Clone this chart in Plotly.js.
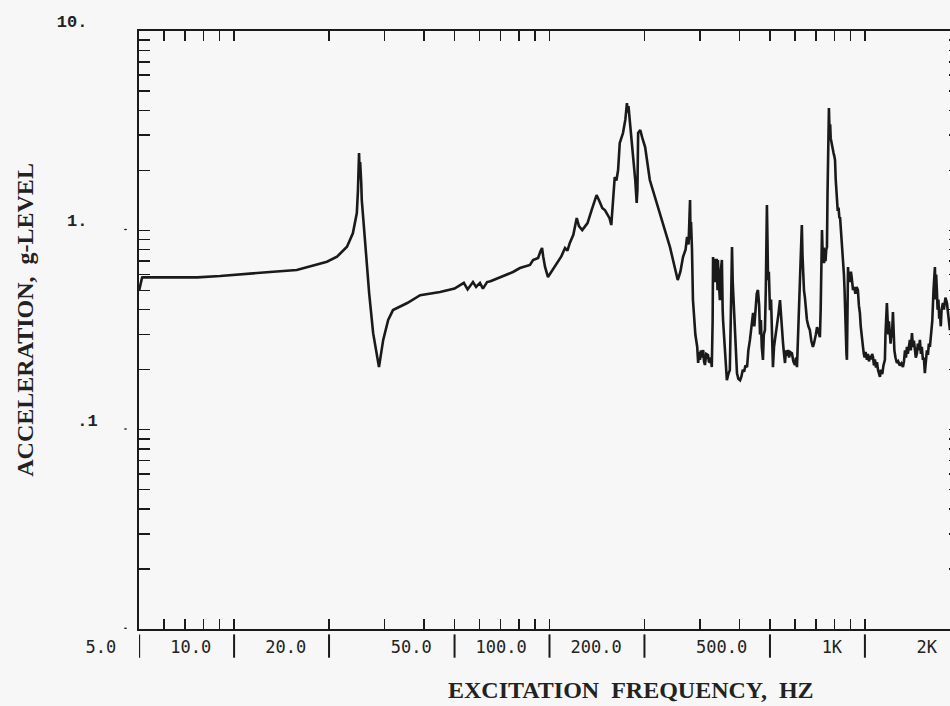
<!DOCTYPE html>
<html><head><meta charset="utf-8">
<script src="https://cdn.plot.ly/plotly-3.0.1.min.js"></script>
<style>html,body{margin:0;padding:0;overflow:hidden;background:#f7f7f7;width:950px;height:706px}</style>
</head><body><div id="chart"></div>
<script>
// Excitation frequency (Hz) and acceleration (g)
const freqHz = [5.0,5.11,5.15,6.27,7.64,9.03,10.68,13.0,15.8,17.4,19.7,21.2,22.8,23.8,24.5,24.7,24.8,24.9,25.0,25.1,25.3,25.4,26.0,26.8,27.6,28.8,29.7,30.8,31.9,35.4,38.9,45.0,50.0,52.1,53.5,55.0,57.2,58.5,60.2,61.5,63.4,65.0,69.7,76.6,80.6,86.7,88.7,92.0,93.5,94.7,95.5,96.8,98.9,102,106,109,112,114,116,119,122,124,127,132,136,141,144,147,150,152,155,157,159,161,163,165,167,171,174,176,177,178,180,183,187,189,190,191,194,197,201,208,224,241,255,260,265,270,273,276,278,279,280,281,283,285,290,294,296,298,300,302,304,307,309,311,314,318,320,323,325,327,329,330,332,334,336,337,339,341,342,344,347,349,352,354,355,360,365,369,373,377,379,381,384,387,390,393,397,402,406,410,414,418,423,427,432,437,442,446,450,454,458,462,465,468,471,475,478,482,485,487,489,491,493,496,500,504,507,509,511,515,520,526,532,538,542,546,550,554,558,562,566,570,575,580,587,593,600,605,609,614,618,622,625,628,631,634,637,641,645,650,655,662,669,676,684,689,694,699,705,712,720,724,727,731,734,737,740,742,746,750,754,758,761,763,766,769,772,776,779,783,786,790,795,800,804,808,812,816,820,825,830,834,840,846,852,858,862,866,870,874,877,880,884,888,893,898,903,908,912,917,925,933,941,950,957,964,970,975,980,986,992,998,1005,1010,1015,1022,1030,1038,1046,1054,1061,1068,1076,1084,1092,1100,1108,1116,1125,1135,1145,1157,1162,1168,1174,1180,1186,1192,1200,1206,1212,1218,1227,1233,1240,1250,1263,1275,1290,1305,1320,1330,1340,1350,1359,1368,1378,1389,1398,1410,1420,1430,1441,1450,1462,1472,1482,1494,1505,1515,1527,1538,1549,1560,1572,1584,1595,1607,1620,1635,1650,1660,1667,1675,1682,1691,1700,1710,1720,1729,1740,1750,1767,1780,1800,1820,1840,1860,1880,1900,1929,1960,1995];
const accelG = [0.50,0.58,0.581,0.583,0.581,0.59,0.604,0.618,0.632,0.657,0.696,0.737,0.827,0.966,1.22,1.59,2.1,2.44,1.95,2.2,1.73,1.42,0.894,0.485,0.305,0.206,0.282,0.355,0.398,0.432,0.473,0.49,0.51,0.532,0.545,0.505,0.55,0.52,0.545,0.51,0.55,0.555,0.583,0.618,0.647,0.67,0.71,0.726,0.78,0.815,0.74,0.655,0.583,0.63,0.693,0.74,0.815,0.79,0.864,0.95,1.153,1.05,1.003,1.088,1.264,1.503,1.40,1.294,1.26,1.221,1.15,1.063,1.5,1.851,1.78,2.007,2.741,3.077,3.6,4.351,3.9,4.2,3.453,2.618,1.788,1.371,1.6,3.077,3.185,2.9,2.618,1.788,1.221,0.824,0.563,0.62,0.735,0.80,0.926,0.85,1.2,1.419,0.9,1.1,0.797,0.447,0.30,0.26,0.216,0.245,0.224,0.25,0.23,0.251,0.22,0.211,0.24,0.237,0.22,0.218,0.23,0.206,0.35,0.735,0.60,0.72,0.55,0.632,0.72,0.50,0.71,0.55,0.447,0.62,0.71,0.40,0.355,0.25,0.177,0.19,0.199,0.5,0.824,0.55,0.42,0.385,0.25,0.192,0.18,0.177,0.185,0.2,0.195,0.21,0.206,0.25,0.282,0.33,0.385,0.33,0.42,0.48,0.502,0.42,0.30,0.355,0.26,0.224,0.30,0.316,0.50,0.9,1.339,0.9,0.563,0.62,0.398,0.45,0.316,0.25,0.206,0.26,0.29,0.316,0.38,0.447,0.36,0.30,0.272,0.24,0.216,0.25,0.235,0.251,0.23,0.245,0.242,0.22,0.211,0.23,0.206,0.30,0.40,0.502,0.75,0.85,1.063,0.75,0.55,0.50,0.463,0.40,0.355,0.33,0.316,0.28,0.26,0.27,0.282,0.30,0.327,0.31,0.291,0.40,0.60,1.003,0.80,0.70,0.82,0.685,0.75,0.70,0.80,0.824,1.5,2.2,3.2,4.108,3.2,3.4,2.9,2.741,2.741,2.6,2.45,2.35,2.253,1.8,1.6,1.371,1.25,1.3,1.15,1.166,1.0,0.80,0.685,0.60,0.50,0.35,0.28,0.24,0.224,0.40,0.655,0.56,0.60,0.55,0.62,0.58,0.52,0.502,0.52,0.48,0.52,0.502,0.42,0.385,0.33,0.30,0.27,0.26,0.24,0.23,0.245,0.228,0.224,0.24,0.22,0.235,0.225,0.24,0.231,0.21,0.225,0.205,0.218,0.20,0.19,0.184,0.20,0.19,0.21,0.224,0.30,0.35,0.432,0.36,0.30,0.35,0.316,0.27,0.30,0.291,0.389,0.30,0.25,0.23,0.216,0.22,0.21,0.215,0.206,0.22,0.25,0.23,0.26,0.24,0.27,0.282,0.25,0.305,0.26,0.28,0.251,0.23,0.242,0.27,0.25,0.282,0.24,0.26,0.224,0.23,0.192,0.22,0.25,0.237,0.27,0.26,0.30,0.35,0.50,0.60,0.655,0.45,0.60,0.502,0.40,0.45,0.36,0.385,0.33,0.40,0.432,0.40,0.46,0.432,0.38,0.316,0.34,0.38,0.36,0.40,0.38];

// Axis ticks
const xLabelVals = [5,10,20,50,100,200,500,1000,2000];
const xLabelText = ['5.0','10.0','20.0','50.0','100.0','200.0','500.0','1K','2K'];
const xMinorVals = [6,7,8,9,10,20,30,40,50,60,70,80,90,100,200,300,400,500,600,700,800,900,1000];
const yDecadeVals = [0.01,0.1,1,10];
const yDecadeText = ['','.1','1.\u00a0','10.\u00a0'];
const yMinorVals = [0.02,0.03,0.04,0.05,0.06,0.07,0.08,0.09,0.2,0.3,0.4,0.5,0.6,0.7,0.8,0.9,2,3,4,5,6,7,8,9];
const xTitle = 'EXCITATION\u00a0\u00a0FREQUENCY,\u00a0\u00a0HZ';
const yTitle = 'ACCELERATION,\u00a0\u00a0g-LEVEL';

const xTickVals = Array.from(new Set(xLabelVals.concat(xMinorVals))).sort((a,b)=>a-b);
const xTickText = xTickVals.map(v => { const i = xLabelVals.indexOf(v); return i >= 0 ? xLabelText[i] : ''; });
const yTickVals = yDecadeVals.concat(yMinorVals).sort((a,b)=>a-b);
const yTickText = yTickVals.map(v => { const i = yDecadeVals.indexOf(v); return i >= 0 ? yDecadeText[i] : ''; });

const ink = '#1a1a1a';
const bg = '#f7f7f7';

const shapes = [];
xLabelVals.forEach(v => shapes.push({type:'line', xref:'x', yref:'paper', x0:v, x1:v, y0:-0.009, y1:-0.048, line:{color:ink, width:2}}));
yDecadeVals.forEach(v => shapes.push({type:'circle', xref:'paper', xsizemode:'pixel', xanchor:0, x0:-15, x1:-12,
  yref:'y', ysizemode:'pixel', yanchor:v, y0:-1.5, y1:1.5, fillcolor:ink, line:{width:0}}));

const data = [
  {x:freqHz, y:accelG, type:'scatter', mode:'lines', line:{color:ink, width:2.6}, hoverinfo:'skip'},
  {x:freqHz, y:accelG, xaxis:'x2', type:'scatter', mode:'lines', line:{width:0}, opacity:0, hoverinfo:'skip', showlegend:false}
];

const layout = {
  width: 975, height: 706,
  margin: {l:139, r:15, t:31, b:77},
  paper_bgcolor: bg, plot_bgcolor: bg,
  showlegend: false,
  xaxis: {
    type:'log', range:[Math.log10(4.995), Math.log10(2002)],
    tickmode:'array', tickvals:xTickVals, ticktext:xTickText,
    ticks:'inside', ticklen:10, tickwidth:1.6, tickcolor:ink,
    showline:true, linecolor:ink, linewidth:2, mirror:true,
    showgrid:false, zeroline:false,
    ticklabelposition:'outside left', ticklabelshift:-21, ticklabelstandoff:2,
    tickfont:{family:'DejaVu Sans Mono', size:17, color:'#222'}
  },
  xaxis2: {
    type:'log', overlaying:'x', side:'top', matches:'x',
    tickmode:'array', tickvals:xMinorVals,
    ticks:'inside', ticklen:10, tickwidth:1.6, tickcolor:ink,
    showticklabels:false, showline:false, showgrid:false, zeroline:false
  },
  yaxis: {
    type:'log', range:[-2, 1],
    tickmode:'array', tickvals:yTickVals, ticktext:yTickText,
    ticks:'inside', ticklen:11, tickwidth:1.6, tickcolor:ink,
    showline:true, linecolor:ink, linewidth:2, mirror:'ticks',
    showgrid:false, zeroline:false,
    ticklabelshift:-10, ticklabelstandoff:36,
    tickfont:{family:'Liberation Mono', size:17, color:'#222', weight:'bold'}
  },
  shapes: shapes,
  annotations: [
    {text:xTitle, xref:'paper', yref:'paper', x:0.599, y:-0.102, xanchor:'center', yanchor:'middle', showarrow:false,
     font:{family:'Liberation Serif', size:24, color:'#222', weight:'bold'}},
    {text:yTitle, xref:'paper', yref:'paper', x:-0.139, y:0.517, xanchor:'center', yanchor:'middle', textangle:-90, showarrow:false,
     font:{family:'Liberation Serif', size:24, color:'#222', weight:'bold'}}
  ]
};

Plotly.newPlot('chart', data, layout, {staticPlot:true, displayModeBar:false});
</script>
</body></html>
